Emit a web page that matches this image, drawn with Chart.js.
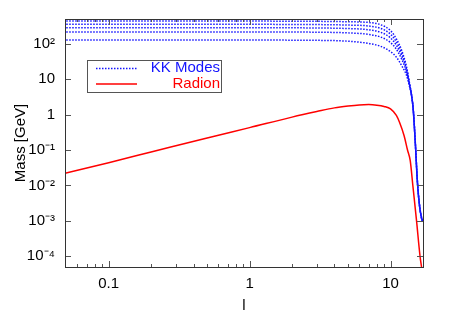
<!DOCTYPE html>
<html>
<head>
    <title>KK Modes and Radion Mass</title>
    <script src="https://cdn.jsdelivr.net/npm/chart.js"></script>
    <style>
        body { margin: 0; background: #fff; }
    </style>
</head>
<body>
    <canvas id="mass-chart" width="450" height="315"></canvas>

    <script>
        // l values where the KK mode curves were read
        const kkL = [0.05, 1, 3, 5, 7, 8.5, 10, 11, 12, 13, 13.6, 14.1, 14.5, 15, 15.5, 16, 16.5, 16.9];
        const kk1 = [127, 127, 125, 118, 102, 85, 60, 42, 24, 12.8, 6.5, 3.5, 1.3, 0.15, 0.013, 0.003, 0.0013, 0.0009];
        const kk2 = [216, 216, 212, 203, 184, 155, 108, 70, 36.8, 16.1, 7.2, 3.5, 1.34, 0.154, 0.0134, 0.0031, 0.00134, 0.00094];
        const kk3 = [283, 283, 279, 269, 248, 211, 146, 91, 45.8, 18.2, 7.6, 3.5, 1.36, 0.156, 0.0136, 0.0031, 0.00136, 0.00096];
        const kk4 = [354, 353, 348, 337, 317, 272, 186, 113, 54.8, 20.0, 7.9, 3.5, 1.38, 0.158, 0.0138, 0.0032, 0.00138, 0.00098];
        const kk5 = [437, 436, 430, 418, 400, 345, 235, 138, 65, 22, 8.2, 3.5, 1.4, 0.16, 0.014, 0.0032, 0.0014, 0.001];

        const radionL = [0.049, 0.1, 0.2, 0.5, 1, 2, 3, 4, 5, 6, 7, 8, 9, 10, 11, 11.6, 12.5, 13.2, 13.8, 14.4, 15.3, 16.2, 16.6];
        const radionM = [0.022, 0.044, 0.088, 0.22, 0.43, 0.85, 1.22, 1.55, 1.75, 1.88, 1.92, 1.85, 1.7, 1.45, 0.95, 0.6, 0.25, 0.1, 0.05, 0.01, 0.001, 0.0001, 0.00005];

        const xTicks = [0.1, 1, 10];
        const xTickLabels = ['0.1', '1', '10'];
        const xMinor = [0.06, 0.07, 0.08, 0.09, 0.2, 0.3, 0.4, 0.5, 0.6, 0.7, 0.8, 0.9, 2, 3, 4, 5, 6, 7, 8, 9];
        const yTicks = [1e-4, 1e-3, 1e-2, 0.1, 1, 10, 100];
        const yTickLabels = ['10\u207B\u2074', '10\u207B\u00B3', '10\u207B\u00B2', '10\u207B\u00B9', '1', '10', '10\u00B2'];

        const FONT = 'Liberation Sans, Arial, Helvetica, sans-serif';

        function pts(xs, ys) {
            return xs.map((x, i) => ({ x: x, y: ys[i] }));
        }

        const kkSets = [kk1, kk2, kk3, kk4, kk5].map((ys, i) => ({
            label: i === 0 ? 'KK Modes' : '',
            data: pts(kkL, ys),
            borderColor: 'rgb(20, 20, 255)',
            borderWidth: 1.5,
            borderDash: [1.5, 1.5],
            pointRadius: 0,
            cubicInterpolationMode: 'monotone',
            fill: false
        }));

        // frame, inward ticks (mirrored on top/right) and the boxed legend
        const framePlugin = {
            id: 'frame',
            afterDatasetsDraw(chart) {
                const ctx = chart.ctx;
                const a = chart.chartArea;
                const xs = chart.scales.x;
                const ys = chart.scales.y;
                ctx.save();
                ctx.strokeStyle = '#555';
                ctx.lineWidth = 1;
                ctx.beginPath();
                xTicks.forEach(v => {
                    const p = Math.round(xs.getPixelForValue(v)) + 0.5;
                    ctx.moveTo(p, a.bottom); ctx.lineTo(p, a.bottom - 6);
                    ctx.moveTo(p, a.top); ctx.lineTo(p, a.top + 6);
                });
                xMinor.forEach(v => {
                    const p = Math.round(xs.getPixelForValue(v)) + 0.5;
                    ctx.moveTo(p, a.bottom); ctx.lineTo(p, a.bottom - 3);
                    ctx.moveTo(p, a.top); ctx.lineTo(p, a.top + 3);
                });
                yTicks.forEach(v => {
                    const p = Math.round(ys.getPixelForValue(v)) + 0.5;
                    ctx.moveTo(a.left, p); ctx.lineTo(a.left + 6, p);
                    ctx.moveTo(a.right, p); ctx.lineTo(a.right - 6, p);
                });
                ctx.stroke();
                ctx.strokeStyle = '#333';
                ctx.strokeRect(Math.round(a.left) + 0.5, Math.round(a.top) + 0.5,
                    Math.round(a.right - a.left), Math.round(a.bottom - a.top));

                // legend
                ctx.fillStyle = '#fff';
                ctx.fillRect(87, 60, 134, 32);
                ctx.strokeStyle = '#555';
                ctx.strokeRect(87.5, 60.5, 134, 32);
                ctx.lineWidth = 1.5;
                ctx.strokeStyle = 'rgb(20, 20, 255)';
                ctx.setLineDash([1.5, 1.5]);
                ctx.beginPath(); ctx.moveTo(96, 68.5); ctx.lineTo(137, 68.5); ctx.stroke();
                ctx.setLineDash([]);
                ctx.strokeStyle = 'rgb(255, 0, 0)';
                ctx.beginPath(); ctx.moveTo(96, 84); ctx.lineTo(137, 84); ctx.stroke();
                ctx.font = '15px ' + FONT;
                ctx.textAlign = 'right';
                ctx.textBaseline = 'middle';
                ctx.fillStyle = 'rgb(20, 20, 255)';
                ctx.fillText('KK Modes', 220, 68);
                ctx.fillStyle = 'rgb(255, 0, 0)';
                ctx.fillText('Radion', 220, 84);
                ctx.restore();
            }
        };

        const ctx = document.getElementById('mass-chart').getContext('2d');
        new Chart(ctx, {
            type: 'line',
            data: {
                datasets: kkSets.concat([{
                    label: 'Radion',
                    data: pts(radionL, radionM),
                    borderColor: 'rgb(255, 0, 0)',
                    borderWidth: 1.5,
                    pointRadius: 0,
                    cubicInterpolationMode: 'monotone',
                    fill: false
                }])
            },
            options: {
                responsive: false,
                animation: false,
                layout: { padding: { top: 18, right: 27, left: 0, bottom: 0 } },
                plugins: {
                    legend: { display: false },
                    tooltip: { enabled: false }
                },
                scales: {
                    x: {
                        type: 'logarithmic',
                        min: 0.049,
                        max: 17,
                        grid: { display: false, drawTicks: false },
                        border: { display: false },
                        afterBuildTicks: s => { s.ticks = xTicks.map(v => ({ value: v })); },
                        afterFit: s => { s.height = 48; },
                        ticks: {
                            autoSkip: false,
                            maxRotation: 0,
                            padding: 8,
                            color: '#000',
                            font: { family: FONT, size: 15 },
                            callback: v => xTickLabels[xTicks.indexOf(v)]
                        },
                        title: {
                            display: true,
                            text: 'l',
                            color: '#000',
                            padding: { top: 0, bottom: 0 },
                            font: { family: FONT, size: 15 }
                        }
                    },
                    y: {
                        type: 'logarithmic',
                        min: 5e-5,
                        max: 500,
                        grid: { display: false, drawTicks: false },
                        border: { display: false },
                        afterBuildTicks: s => { s.ticks = yTicks.map(v => ({ value: v })); },
                        afterFit: s => { s.width = 65; },
                        ticks: {
                            autoSkip: false,
                            padding: 10,
                            color: '#000',
                            font: { family: FONT, size: 15 },
                            callback: v => yTickLabels[yTicks.indexOf(v)]
                        },
                        title: {
                            display: true,
                            text: 'Mass [GeV]',
                            color: '#000',
                            padding: { top: 12, bottom: 0 },
                            font: { family: FONT, size: 15 }
                        }
                    }
                }
            },
            plugins: [framePlugin]
        });
    </script>
</body>
</html>
